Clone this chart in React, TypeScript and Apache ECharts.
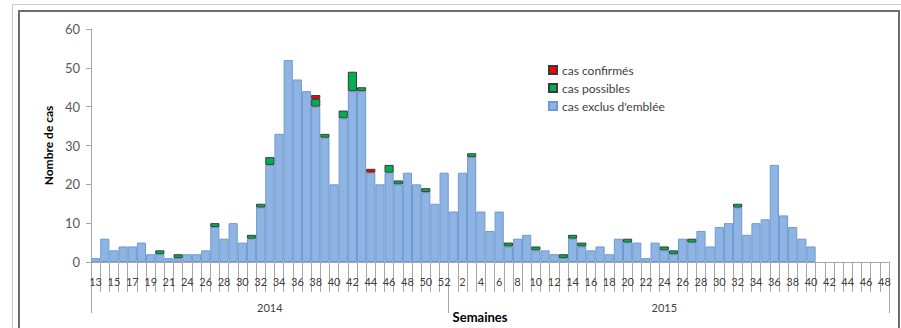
import React, { useEffect, useRef } from "react";
import * as echarts from "echarts";

// Weeks: 2014 (13..52, week 23 absent) then 2015 (1..48)
const weeks2014: number[] = [13, 14, 15, 16, 17, 18, 19, 20, 21, 22, 24, 25, 26, 27, 28, 29, 30, 31, 32, 33, 34, 35, 36, 37, 38, 39, 40, 41, 42, 43, 44, 45, 46, 47, 48, 49, 50, 51, 52];
const weeks2015: number[] = [1, 2, 3, 4, 5, 6, 7, 8, 9, 10, 11, 12, 13, 14, 15, 16, 17, 18, 19, 20, 21, 22, 23, 24, 25, 26, 27, 28, 29, 30, 31, 32, 33, 34, 35, 36, 37, 38, 39, 40, 41, 42, 43, 44, 45, 46, 47, 48];
const years: string[] = ["2014", "2015"];

// cas exclus d'emblée (blue)
const exclus2014: number[] = [1, 6, 3, 4, 4, 5, 2, 2, 1, 1, 2, 2, 3, 9, 6, 10, 5, 6, 14, 25, 33, 52, 47, 44, 40, 32, 20, 37, 44, 44, 23, 20, 23, 20, 23, 20, 18, 15, 23];
const exclus2015: number[] = [13, 23, 27, 13, 8, 13, 4, 6, 7, 3, 3, 2, 1, 6, 4, 3, 4, 2, 6, 5, 5, 1, 5, 3, 2, 6, 5, 8, 4, 9, 10, 14, 7, 10, 11, 25, 12, 9, 6, 4, 0, 0, 0, 0, 0, 0, 0, 0];
// cas possibles (green)
const possibles2014: number[] = [0, 0, 0, 0, 0, 0, 0, 1, 0, 1, 0, 0, 0, 1, 0, 0, 0, 1, 1, 2, 0, 0, 0, 0, 2, 1, 0, 2, 5, 1, 0, 0, 2, 1, 0, 0, 1, 0, 0];
const possibles2015: number[] = [0, 0, 1, 0, 0, 0, 1, 0, 0, 1, 0, 0, 1, 1, 1, 0, 0, 0, 0, 1, 0, 0, 0, 1, 1, 0, 1, 0, 0, 0, 0, 1, 0, 0, 0, 0, 0, 0, 0, 0, 0, 0, 0, 0, 0, 0, 0, 0];
// cas confirmés (red)
const confirmes2014: number[] = [0, 0, 0, 0, 0, 0, 0, 0, 0, 0, 0, 0, 0, 0, 0, 0, 0, 0, 0, 0, 0, 0, 0, 0, 1, 0, 0, 0, 0, 0, 1, 0, 0, 0, 0, 0, 0, 0, 0];
const confirmes2015: number[] = new Array(48).fill(0);

const yTicks = { min: 0, max: 60, interval: 10 };

const FONT = "Lato, 'Open Sans', sans-serif";

export default function App() {
  const ref = useRef<HTMLDivElement>(null);

  useEffect(() => {
    if (!ref.current) return;
    const chart = echarts.init(ref.current, null, { renderer: "svg" });

    const weekLabels = [...weeks2014, ...weeks2015].map(String);
    const n = weekLabels.length;
    const split = weeks2014.length;
    const yearLabels = weekLabels.map((_, i) => {
      if (i === Math.floor((split - 1) / 2)) return years[0];
      if (i === split + Math.floor((n - split - 1) / 2)) return years[1];
      return "";
    });
    const nz = (a: number[]) => a.map((v) => (v ? v : null));
    const exclus = nz([...exclus2014, ...exclus2015]);
    const possibles = nz([...possibles2014, ...possibles2015]);
    const confirmes = nz([...confirmes2014, ...confirmes2015]);

    chart.setOption({
      animation: false,
      textStyle: { fontFamily: FONT },
      grid: { left: 91, right: 12, top: 29, bottom: 56, containLabel: false },
      legend: {
        orient: "vertical",
        left: 543,
        top: 59,
        itemWidth: 8,
        itemHeight: 8,
        itemGap: 6,
        icon: "rect",
        textStyle: { fontSize: 12, color: "#404040", fontFamily: FONT },
        data: ["cas confirmés", "cas possibles", "cas exclus d'emblée"],
      },
      xAxis: [
        {
          type: "category",
          data: weekLabels,
          boundaryGap: true,
          name: "Semaines",
          nameLocation: "middle",
          nameGap: 48,
          nameTextStyle: { fontWeight: "bold", fontSize: 13, color: "#000", padding: [0, 20, 0, 0], fontFamily: FONT },
          axisLine: { show: true, lineStyle: { color: "#a6a6a6" } },
          axisTick: { show: true, interval: 0, length: 30, lineStyle: { color: "#a6a6a6" } },
          axisLabel: { interval: 1, margin: 14, fontSize: 11, color: "#404040", fontFamily: FONT },
          splitLine: { show: false },
        },
        {
          type: "category",
          data: yearLabels,
          position: "bottom",
          boundaryGap: true,
          axisLine: { show: false },
          axisTick: {
            show: true,
            interval: (i: number) => i === 0 || i === split,
            length: 51,
            lineStyle: { color: "#a6a6a6" },
          },
          axisLabel: { interval: 0, margin: 40, fontSize: 11, color: "#404040", fontFamily: FONT },
          splitLine: { show: false },
        },
      ],
      yAxis: {
        type: "value",
        min: yTicks.min,
        max: yTicks.max,
        interval: yTicks.interval,
        name: "Nombre de cas",
        nameLocation: "middle",
        nameGap: 36,
        nameTextStyle: { fontWeight: "bold", fontSize: 12, color: "#000", fontFamily: FONT },
        axisLine: { show: true, lineStyle: { color: "#a6a6a6" } },
        axisTick: { show: true, length: 5, lineStyle: { color: "#a6a6a6" } },
        axisLabel: { margin: 11, fontSize: 13, color: "#595959", fontFamily: FONT },
        splitLine: { show: false },
      },
      graphic: [
        { type: "rect", shape: { x: 12.5, y: 4.5, width: 900, height: 400 }, style: { fill: "none", stroke: "#c8c8c8", lineWidth: 1 }, silent: true },
        { type: "rect", shape: { x: 19, y: 11, width: 880, height: 400 }, style: { fill: "none", stroke: "#6e6e6e", lineWidth: 2 }, silent: true },
      ],
      series: [
        {
          name: "cas exclus d'emblée",
          type: "bar",
          stack: "cas",
          barCategoryGap: "0%",
          data: exclus,
          itemStyle: { color: "#8db4e2", borderColor: "#6f99cf", borderWidth: 1 },
        },
        {
          name: "cas possibles",
          type: "bar",
          stack: "cas",
          barCategoryGap: "0%",
          data: possibles,
          itemStyle: { color: "#00b050", borderColor: "#3a3a3a", borderWidth: 1 },
        },
        {
          name: "cas confirmés",
          type: "bar",
          stack: "cas",
          barCategoryGap: "0%",
          data: confirmes,
          itemStyle: { color: "#ff0000", borderColor: "#3a3a3a", borderWidth: 1 },
        },
      ],
    });

    return () => chart.dispose();
  }, []);

  return (
    <div
      ref={ref}
      style={{ position: "absolute", left: 0, top: 0, width: 901, height: 328, background: "#fff" }}
    />
  );
}
